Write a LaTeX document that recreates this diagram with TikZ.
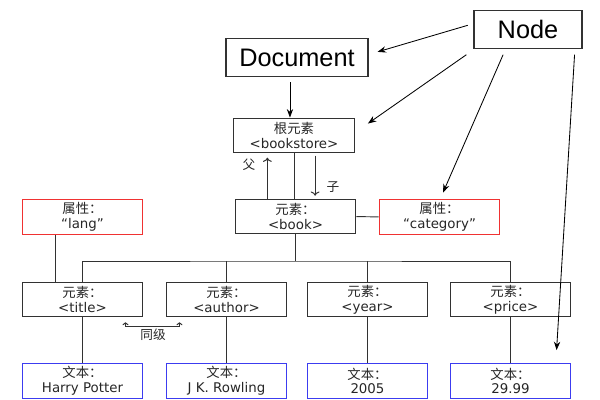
\documentclass[tikz,border=0pt]{standalone}
\usepackage{fontspec}
\setmainfont{DejaVu Sans}
\newfontfamily\cjk{Noto Sans CJK SC}
\newfontfamily\arialfont{Liberation Sans}
\usetikzlibrary{arrows.meta}
\definecolor{attrred}{RGB}{240,50,50}
\definecolor{textblue}{RGB}{60,60,240}
\definecolor{linegray}{RGB}{50,50,50}
\tikzset{
  box/.style={draw=linegray, line width=0.8pt, minimum width=3.02cm, minimum height=0.87cm,
    inner sep=0pt, align=center, text=black!85, font=\fontsize{9.5}{10.5}\selectfont},
  attr/.style={box, draw=attrred},
  txt/.style={box, draw=textblue},
  bigbox/.style={draw=linegray, line width=0.8pt, minimum height=0.93cm, inner sep=0pt,
    font=\arialfont\fontsize{18}{20}\selectfont},
  lbl/.style={font=\cjk\fontsize{9}{10}\selectfont, text=black!85},
  conn/.style={draw=linegray, line width=0.7pt},
  ptr/.style={draw=black, line width=0.6pt, -{Stealth[length=6pt,width=4.5pt]}},
}
\begin{document}
\begin{tikzpicture}[x=0.025cm,y=-0.025cm]
  \useasboundingbox (0,0) rectangle (600,400);
  \node[bigbox, minimum width=3.55cm] (doc) at (297,57.5) {Document};
  \node[bigbox, minimum width=2.7cm] (nd) at (528,29.5) {Node};
  \node[box] (root) at (294,135.5) {{\cjk 根元素}\\<bookstore>};
  \node[box] (book) at (295.5,216.5) {{\cjk 元素：}\\<book>};
  \node[attr] (lang) at (82.5,217) {{\cjk 属性：}\\“lang”};
  \node[attr] (cat) at (439.5,217) {{\cjk 属性：}\\“category”};
  \node[box] (title) at (82.5,299.5) {{\cjk 元素：}\\<title>};
  \node[box] (author) at (226.5,299.5) {{\cjk 元素：}\\<author>};
  \node[box] (year) at (367.5,299.5) {{\cjk 元素：}\\<year>};
  \node[box] (price) at (510.5,299.5) {{\cjk 元素：}\\<price>};
  \node[txt] (t1) at (82.5,381) {{\cjk 文本：}\\Harry Potter};
  \node[txt] (t2) at (226.5,381) {{\cjk 文本：}\\J K. Rowling};
  \node[txt] (t3) at (367.5,381) {{\cjk 文本：}\\2005};
  \node[txt] (t4) at (510.5,381) {{\cjk 文本：}\\29.99};
  \node[lbl] (fu) at (249,165) {父};
  \node[lbl] (zi) at (333,187) {子};
  \node[lbl] (sib) at (153,335) {同级};
  \coordinate (bus) at (295.5,261);
  % tree lines
  \begin{scope}[conn]
    \draw (root.south) -- (root.south |- book.north);
    \draw (book) -- (cat);
    \draw ([xshift=-19pt]lang.south) -- ([xshift=-19pt]lang.south |- title.north);
    \draw (book.south) -- (bus);
    \draw (title.north) |- (bus) -| (price.north);
    \draw (author.north) -- (author.north |- bus);
    \draw (year.north) -- (year.north |- bus);
    \draw (title) -- (t1);
    \draw (author) -- (t2);
    \draw (year) -- (t3);
    \draw (price) -- (t4);
    \draw[-{To[length=3pt]}] ([xshift=-20pt]book.north) -- ([xshift=-20pt,yshift=-3pt]book.north |- root.south);
    \draw[-{To[length=3pt]}] ([xshift=15pt,yshift=-1.5pt]root.south) -- ([xshift=15pt,yshift=2pt]root.south |- book.north);
    \draw[{To[length=2pt]}-{To[length=2pt]}] ([xshift=-12.8pt,yshift=-3.5pt]title.south east) -- ++(0pt,-3pt)
      -| ([xshift=9.9pt,yshift=-3.5pt]author.south west);
  \end{scope}
  % pointers
  \draw[ptr] ([xshift=-5pt,yshift=-4pt]doc.south) -- ([xshift=-5pt]doc.south |- root.north);
  \draw[ptr] ([xshift=-4pt,yshift=3pt]nd.west) -- ([xshift=6.4pt,yshift=4pt]doc.east);
  \draw[ptr] ([xshift=-5pt,yshift=-4.3pt]nd.south west) -- ([xshift=9.2pt,yshift=-4.3pt]root.north east);
  \draw[ptr] ([xshift=-17.7pt,yshift=-4.3pt]nd.south) -- ([xshift=2.5pt,yshift=4.6pt]cat.north);
  \draw[ptr] ([xshift=-5.7pt,yshift=-4.3pt]nd.south east) -- ([xshift=-10.6pt,yshift=9.2pt]t4.north east);
\end{tikzpicture}
\end{document}
